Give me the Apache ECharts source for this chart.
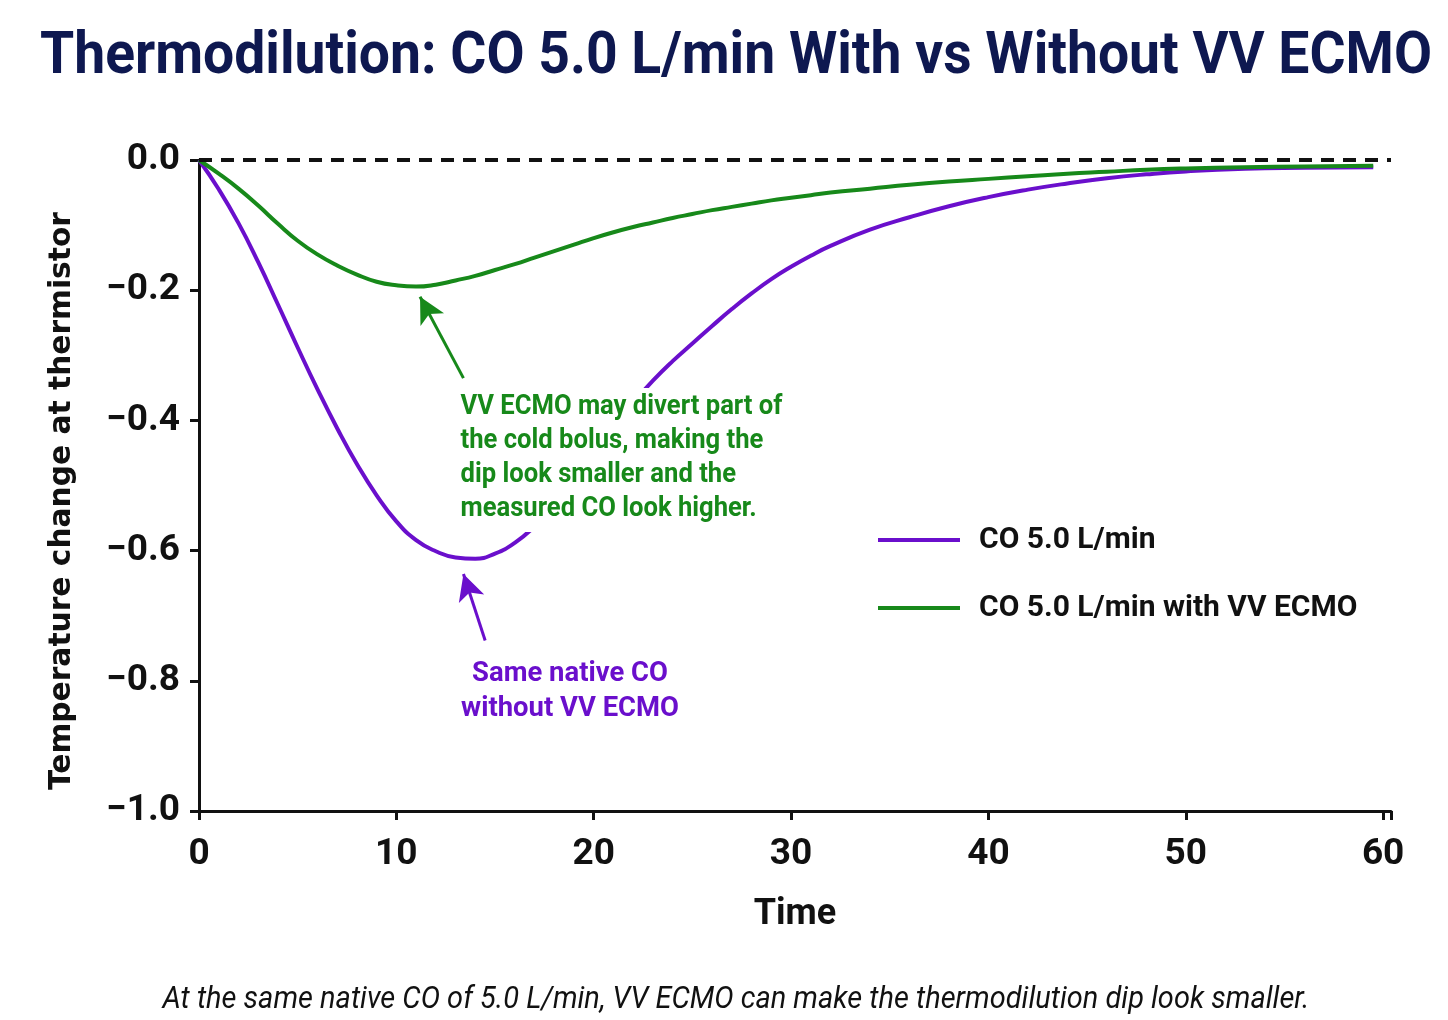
<!DOCTYPE html>
<html>
<head>
<meta charset="utf-8">
<title>Thermodilution</title>
<script src="https://cdn.jsdelivr.net/npm/echarts@6/dist/echarts.min.js"></script>
<style>
    html, body { margin: 0; padding: 0; background: #fff; }
    #chart { width: 1448px; height: 1020px; }
</style>
</head>
<body>
<div id="chart"></div>
<script>
// time points shared by both curves
const timePoints = [0, 1, 2, 3, 4, 5, 6, 7, 8, 9, 10, 11, 12, 13, 14, 15, 16, 17, 18, 19, 20,
    21, 22, 23, 24, 25, 26, 27, 28, 29, 30, 31, 32, 34, 36, 38, 40, 42, 44, 46, 48, 50, 53, 56, 59.5]

// CO 5.0 L/min (no ECMO)
const purpleTemp = [0, -0.045, -0.097, -0.157, -0.222, -0.288, -0.352, -0.412, -0.467, -0.515, -0.555,
    -0.584, -0.601, -0.6105, -0.6125, -0.6045, -0.588, -0.563, -0.531, -0.493, -0.452,
    -0.411, -0.373, -0.339, -0.309, -0.282, -0.255, -0.229, -0.205, -0.183, -0.164, -0.147, -0.132,
    -0.107, -0.088, -0.071, -0.057, -0.0455, -0.036, -0.028, -0.022, -0.0175, -0.0135, -0.012, -0.011]

// CO 5.0 L/min with VV ECMO
const greenTemp = [0, -0.021, -0.044, -0.070, -0.098, -0.124, -0.145, -0.162, -0.176, -0.187, -0.1925,
    -0.1945, -0.1915, -0.185, -0.178, -0.169, -0.160, -0.150, -0.140, -0.130, -0.120,
    -0.111, -0.103, -0.096, -0.089, -0.083, -0.077, -0.072, -0.067, -0.062, -0.058, -0.054, -0.050,
    -0.044, -0.038, -0.033, -0.029, -0.025, -0.021, -0.018, -0.015, -0.013, -0.011, -0.010, -0.009]

const seriesNames = ['CO 5.0 L/min', 'CO 5.0 L/min with VV ECMO']
const xTicks = [0, 10, 20, 30, 40, 50, 60]
const yTicks = [-1.0, -0.8, -0.6, -0.4, -0.2, 0.0]

// arrow start/end in data coords
const greenArrow = [[13.4, -0.335], [11.2, -0.21]]
const purpleArrow = [[14.5, -0.738], [13.4, -0.636]]

const purple = '#6a0fcc'
const green = '#17891a'
const font = 'Roboto, "Noto Sans", sans-serif'

const titleText = 'Thermodilution: CO 5.0 L/min With vs Without VV ECMO'
const noteText = 'At the same native CO of 5.0 L/min, VV ECMO can make the thermodilution dip look smaller.'
const yName = 'Temperature change at thermistor'
const greenNote = 'VV ECMO may divert part of\nthe cold bolus, making the\ndip look smaller and the\nmeasured CO look higher.'
const purpleNote = 'Same native CO\nwithout VV ECMO'

// squeeze text horizontally so it fits the width it had in the picture
const ctx = document.createElement('canvas').getContext('2d')
function squeeze(text, cssFont, width) {
    ctx.font = cssFont
    const longest = Math.max(...text.split('\n').map(s => ctx.measureText(s).width))
    return Math.min(1, width / longest)
}

const titleFont = 'bold 60px ' + font
const noteFont = 'italic 31px ' + font
const annFont = 'bold 28px ' + font
const yNameFont = 'bold 30px "DejaVu Sans", Verdana, sans-serif'

const myChart = echarts.init(document.getElementById('chart'))

function pairs(ys) {
    return timePoints.map((t, i) => [t, ys[i]])
}

function arrowLine(pts, color) {
    return {
        silent: true,
        symbol: ['none', 'arrow'],
        symbolSize: [20, 26],
        label: { show: false },
        lineStyle: { color: color, width: 3, type: 'solid' },
        data: [[{ coord: pts[0] }, { coord: pts[1] }]]
    }
}

const option = {
    animation: false,
    backgroundColor: '#fff',
    legend: {
        orient: 'vertical',
        left: 873,
        top: 520,
        itemWidth: 82,
        itemHeight: 4,
        itemGap: 38,
        icon: 'rect',
        data: seriesNames,
        textStyle: {
            fontFamily: font,
            fontWeight: 'bold',
            fontSize: 30,
            color: '#111',
            padding: [0, 0, 0, 14]
        }
    },
    grid: {
        left: 199,
        right: 57,
        top: 160,
        bottom: 209
    },
    xAxis: {
        type: 'value',
        min: 0,
        max: 60.4,
        interval: 10,
        name: 'Time',
        nameLocation: 'middle',
        nameGap: 86,
        nameTextStyle: {
            fontFamily: font,
            fontWeight: 'bold',
            fontSize: 36,
            color: '#111'
        },
        axisLine: { onZero: false, lineStyle: { color: '#111', width: 3 } },
        axisTick: { show: true, length: 9, lineStyle: { color: '#111', width: 3 } },
        axisLabel: {
            margin: 25,
            fontFamily: font,
            fontWeight: 'bold',
            fontSize: 37,
            color: '#111',
            formatter: function (v) {
                return xTicks.indexOf(v) >= 0 ? String(v) : ''
            }
        },
        splitLine: { show: false }
    },
    yAxis: {
        type: 'value',
        min: -1.0,
        max: 0.0,
        interval: 0.2,
        axisLine: { show: true, onZero: false, lineStyle: { color: '#111', width: 3 } },
        axisTick: { show: true, length: 9, lineStyle: { color: '#111', width: 3 } },
        axisLabel: {
            margin: 19,
            fontFamily: font,
            fontWeight: 'bold',
            fontSize: 37,
            color: '#111',
            formatter: function (v) {
                const nearest = yTicks.find(t => Math.abs(t - v) < 1e-6)
                if (nearest === undefined) return ''
                return nearest.toFixed(1).replace('-', '\u2212')
            }
        },
        splitLine: { show: false }
    },
    series: [
        {
            name: seriesNames[0],
            type: 'line',
            smooth: 0.5,
            showSymbol: false,
            z: 3,
            color: purple,
            lineStyle: { color: purple, width: 4 },
            data: pairs(purpleTemp),
            markLine: arrowLine(purpleArrow, purple)
        },
        {
            name: seriesNames[1],
            type: 'line',
            smooth: 0.5,
            showSymbol: false,
            z: 4,
            color: green,
            lineStyle: { color: green, width: 4 },
            data: pairs(greenTemp),
            markLine: arrowLine(greenArrow, green)
        },
        {
            // dashed baseline at zero (carrier series draws nothing itself)
            type: 'line',
            showSymbol: false,
            z: 2,
            lineStyle: { width: 0, opacity: 0 },
            data: [[0, 0], [60, 0]],
            markLine: {
                silent: true,
                symbol: 'none',
                label: { show: false },
                lineStyle: { color: '#111', width: 4, type: [13, 9] },
                data: [{ yAxis: 0 }]
            }
        }
    ],
    graphic: [
        {
            type: 'text',
            x: 736,
            y: 58,
            scaleX: squeeze(titleText, titleFont, 1392),
            style: {
                text: titleText,
                fill: '#0e1850',
                font: titleFont,
                align: 'center',
                verticalAlign: 'middle'
            }
        },
        {
            type: 'text',
            x: 62,
            y: 501,
            rotation: Math.PI / 2,
            scaleX: squeeze(yName, yNameFont, 578),
            style: {
                text: yName,
                fill: '#111',
                font: yNameFont,
                align: 'center',
                verticalAlign: 'middle'
            }
        },
        {
            type: 'text',
            x: 455,
            y: 388,
            z: 100,
            scaleX: squeeze(greenNote, annFont, 322),
            style: {
                text: greenNote,
                fill: green,
                font: annFont,
                lineHeight: 34,
                backgroundColor: '#fff',
                padding: [2, 14, 6, 6]
            }
        },
        {
            type: 'text',
            x: 570,
            y: 656,
            z: 100,
            scaleX: squeeze(purpleNote, annFont, 218),
            style: {
                text: purpleNote,
                fill: purple,
                font: annFont,
                lineHeight: 35,
                align: 'center'
            }
        },
        {
            type: 'text',
            x: 736,
            y: 1000,
            scaleX: squeeze(noteText, noteFont, 1147),
            style: {
                text: noteText,
                fill: '#111',
                font: noteFont,
                align: 'center',
                verticalAlign: 'middle'
            }
        }
    ]
}

myChart.setOption(option)
</script>
</body>
</html>
